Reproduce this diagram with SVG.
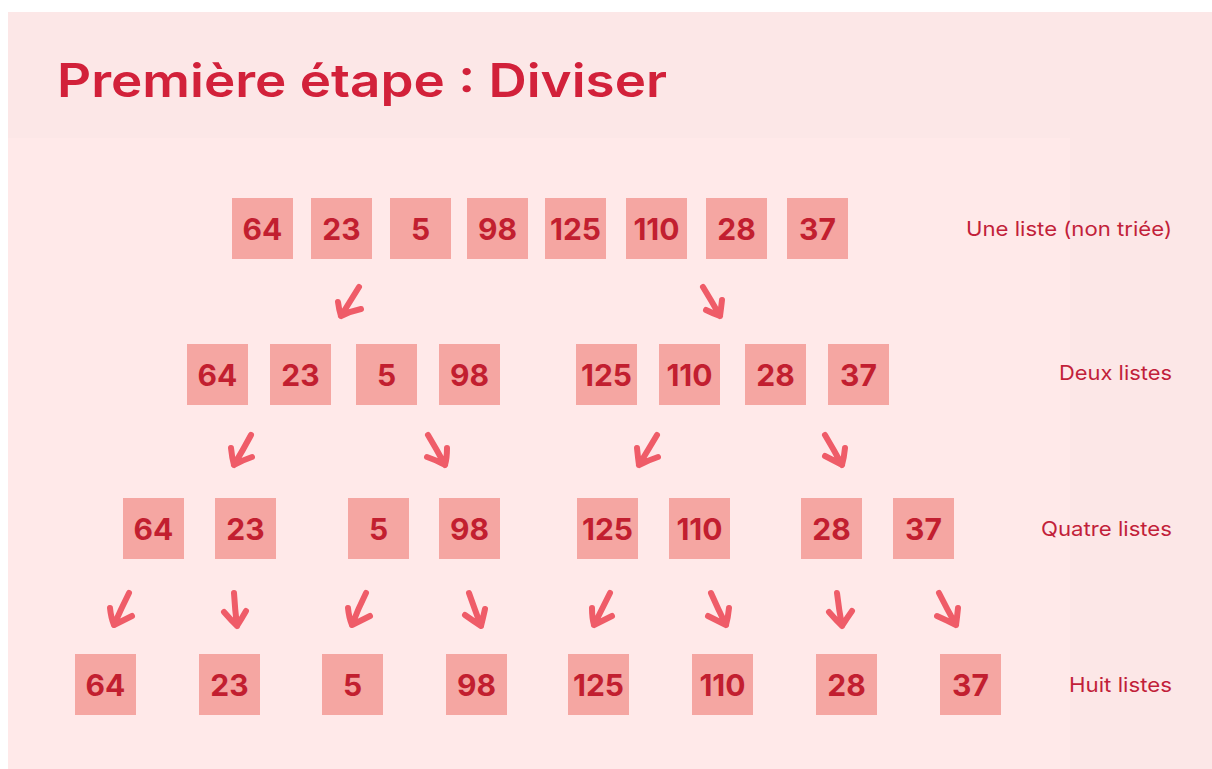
<svg xmlns="http://www.w3.org/2000/svg" width="1212" height="769" viewBox="0 0 1212 769">
<style>
.bx{fill:#F5A6A2}
.n{font-family:Inter,"Noto Sans","Liberation Sans",sans-serif;font-weight:700;font-size:30px;fill:#C21F30;text-anchor:middle}
.lb{font-family:Inter,"Noto Sans","Liberation Sans",sans-serif;font-weight:400;font-size:20px;fill:#C21F3A;text-anchor:end}
.ar{fill:none;stroke:#EF5C68;stroke-width:6;stroke-linecap:round;stroke-linejoin:round}
</style>
<rect x="0" y="0" width="1212" height="769" fill="#ffffff"/>
<rect x="8" y="12" width="1204" height="757" fill="#FCE7E7"/>
<rect x="8" y="138" width="1062" height="631" fill="#FFE9E9"/>
<text x="57" y="97" font-family="Inter,'Noto Sans','Liberation Sans',sans-serif" font-weight="600" font-size="46" fill="#D2213A" textLength="610" lengthAdjust="spacingAndGlyphs">Première étape : Diviser</text>

<g id="labels">
<text class="lb" x="1172" y="236" textLength="206" lengthAdjust="spacingAndGlyphs">Une liste (non triée)</text>
<text class="lb" x="1172" y="380" textLength="113" lengthAdjust="spacingAndGlyphs">Deux listes</text>
<text class="lb" x="1172" y="536" textLength="131" lengthAdjust="spacingAndGlyphs">Quatre listes</text>
<text class="lb" x="1172" y="692" textLength="103" lengthAdjust="spacingAndGlyphs">Huit listes</text>
</g>

<g id="row1">
<g id="r1-64"><rect class="bx" x="232" y="198" width="61" height="61"/><text class="n" x="262.5" y="240">64</text></g>
<g id="r1-23"><rect class="bx" x="311" y="198" width="61" height="61"/><text class="n" x="341.5" y="240">23</text></g>
<g id="r1-5"><rect class="bx" x="390" y="198" width="61" height="61"/><text class="n" x="420.5" y="240">5</text></g>
<g id="r1-98"><rect class="bx" x="467" y="198" width="61" height="61"/><text class="n" x="497.5" y="240">98</text></g>
<g id="r1-125"><rect class="bx" x="545" y="198" width="61" height="61"/><text class="n" x="575.5" y="240">125</text></g>
<g id="r1-110"><rect class="bx" x="626" y="198" width="61" height="61"/><text class="n" x="656.5" y="240">110</text></g>
<g id="r1-28"><rect class="bx" x="706" y="198" width="61" height="61"/><text class="n" x="736.5" y="240">28</text></g>
<g id="r1-37"><rect class="bx" x="787" y="198" width="61" height="61"/><text class="n" x="817.5" y="240">37</text></g>
</g>

<g id="row2">
<g id="r2-64"><rect class="bx" x="187" y="344" width="61" height="61"/><text class="n" x="217.5" y="386">64</text></g>
<g id="r2-23"><rect class="bx" x="270" y="344" width="61" height="61"/><text class="n" x="300.5" y="386">23</text></g>
<g id="r2-5"><rect class="bx" x="356" y="344" width="61" height="61"/><text class="n" x="386.5" y="386">5</text></g>
<g id="r2-98"><rect class="bx" x="439" y="344" width="61" height="61"/><text class="n" x="469.5" y="386">98</text></g>
<g id="r2-125"><rect class="bx" x="576" y="344" width="61" height="61"/><text class="n" x="606.5" y="386">125</text></g>
<g id="r2-110"><rect class="bx" x="659" y="344" width="61" height="61"/><text class="n" x="689.5" y="386">110</text></g>
<g id="r2-28"><rect class="bx" x="745" y="344" width="61" height="61"/><text class="n" x="775.5" y="386">28</text></g>
<g id="r2-37"><rect class="bx" x="828" y="344" width="61" height="61"/><text class="n" x="858.5" y="386">37</text></g>
</g>

<g id="row3">
<g id="r3-64"><rect class="bx" x="123" y="498" width="61" height="61"/><text class="n" x="153.5" y="540">64</text></g>
<g id="r3-23"><rect class="bx" x="215" y="498" width="61" height="61"/><text class="n" x="245.5" y="540">23</text></g>
<g id="r3-5"><rect class="bx" x="348" y="498" width="61" height="61"/><text class="n" x="378.5" y="540">5</text></g>
<g id="r3-98"><rect class="bx" x="439" y="498" width="61" height="61"/><text class="n" x="469.5" y="540">98</text></g>
<g id="r3-125"><rect class="bx" x="577" y="498" width="61" height="61"/><text class="n" x="607.5" y="540">125</text></g>
<g id="r3-110"><rect class="bx" x="669" y="498" width="61" height="61"/><text class="n" x="699.5" y="540">110</text></g>
<g id="r3-28"><rect class="bx" x="801" y="498" width="61" height="61"/><text class="n" x="831.5" y="540">28</text></g>
<g id="r3-37"><rect class="bx" x="893" y="498" width="61" height="61"/><text class="n" x="923.5" y="540">37</text></g>
</g>

<g id="row4">
<g id="r4-64"><rect class="bx" x="75" y="654" width="61" height="61"/><text class="n" x="105.5" y="696">64</text></g>
<g id="r4-23"><rect class="bx" x="199" y="654" width="61" height="61"/><text class="n" x="229.5" y="696">23</text></g>
<g id="r4-5"><rect class="bx" x="322" y="654" width="61" height="61"/><text class="n" x="352.5" y="696">5</text></g>
<g id="r4-98"><rect class="bx" x="446" y="654" width="61" height="61"/><text class="n" x="476.5" y="696">98</text></g>
<g id="r4-125"><rect class="bx" x="568" y="654" width="61" height="61"/><text class="n" x="598.5" y="696">125</text></g>
<g id="r4-110"><rect class="bx" x="692" y="654" width="61" height="61"/><text class="n" x="722.5" y="696">110</text></g>
<g id="r4-28"><rect class="bx" x="816" y="654" width="61" height="61"/><text class="n" x="846.5" y="696">28</text></g>
<g id="r4-37"><rect class="bx" x="940" y="654" width="61" height="61"/><text class="n" x="970.5" y="696">37</text></g>
</g>

<g id="connectors">
<path class="ar" d="M359 287 Q351 300 341 316 M338 302 Q339 310 341 316 Q351 311 361 309"/>
<path class="ar" d="M703 287 Q711 300 720 316 M722 300 Q721 309 720 316 Q712 313 706 310"/>

<path class="ar" d="M251 435 Q243 450 234 465 M231 448 Q232 458 234 465 Q243 460 252 457"/>
<path class="ar" d="M428 435 Q437 450 445 465 M447 448 Q447 458 445 465 Q436 460 427 457"/>
<path class="ar" d="M657 435 Q648 450 639 465 M637 448 Q638 458 639 465 Q649 460 658 457"/>
<path class="ar" d="M825 435 Q834 450 842 465 M845 448 Q844 458 842 465 Q833 460 825 456"/>

<path class="ar" d="M129 593 Q121 609 114 625 M110 608 Q111 618 114 625 Q124 620 132 616"/>
<path class="ar" d="M234 593 Q235 610 237 626 M224 612 Q231 620 237 626 Q242 618 246 611"/>
<path class="ar" d="M366 593 Q358 609 352 625 M348 608 Q349 618 352 625 Q362 620 370 616"/>
<path class="ar" d="M469 593 Q475 610 481 626 M485 609 Q483 618 481 626 Q472 620 465 615"/>
<path class="ar" d="M610 593 Q602 609 594 625 M592 608 Q592 618 594 625 Q604 620 612 616"/>
<path class="ar" d="M711 593 Q718 609 726 625 M729 608 Q728 618 726 625 Q716 620 708 616"/>
<path class="ar" d="M837 593 Q839 610 842 626 M829 612 Q836 620 842 626 Q847 618 852 611"/>
<path class="ar" d="M939 593 Q947 609 956 625 M958 608 Q957 618 956 625 Q946 620 937 616"/>
</g>
</svg>
